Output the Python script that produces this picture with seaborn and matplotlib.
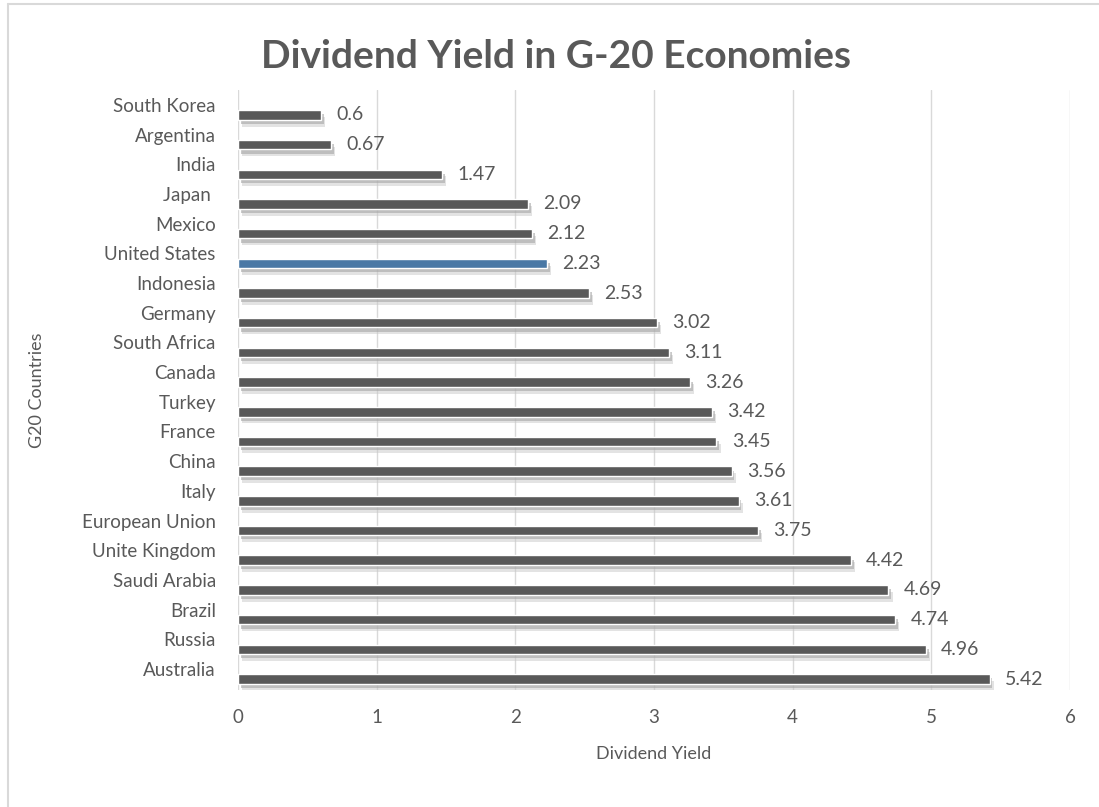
import numpy as np
import matplotlib.pyplot as plt
import matplotlib.patheffects as pe
import matplotlib.transforms as mtransforms
from matplotlib.lines import Line2D
import pandas as pd
import seaborn as sns

countries = ['South Korea', 'Argentina', 'India', 'Japan ', 'Mexico', 'United States',
             'Indonesia', 'Germany', 'South Africa', 'Canada', 'Turkey', 'France',
             'China', 'Italy', 'European Union', 'Unite Kingdom', 'Saudi Arabia',
             'Brazil', 'Russia', 'Australia']
yields = [0.6, 0.67, 1.47, 2.09, 2.12, 2.23, 2.53, 3.02, 3.11, 3.26, 3.42, 3.45,
          3.56, 3.61, 3.75, 4.42, 4.69, 4.74, 4.96, 5.42]
highlight = 'United States'

dane = pd.DataFrame({'country': countries, 'yield': yields})
kolory = {c: ('#3b78b4' if c == highlight else '#595959') for c in countries}

sns.set_style('white')
plt.rcParams['font.family'] = ['Lato', 'DejaVu Sans']
szary = '#595959'

fig = plt.figure(figsize=(10.99, 8.07), dpi=100)
ax = fig.add_axes([0.2166, 0.145, 0.7570, 0.7435])

sns.barplot(data=dane, x='yield', y='country', hue='country', palette=kolory,
            legend=False, width=0.32, orient='h', ax=ax, zorder=3)

# miekki cien pod slupkami jak w Excelu
for bar in ax.patches:
    bar.set_path_effects([
        pe.SimplePatchShadow(offset=(3, -5), shadow_rgbFace='#c8c8c8', alpha=0.5),
        pe.SimplePatchShadow(offset=(2, -3), shadow_rgbFace='#a6a6a6', alpha=0.6),
        pe.Normal()])

for cont in ax.containers:
    ax.bar_label(cont, fmt='%g', padding=11, fontsize=14, color=szary)

ax.set_xlim(0, 6)
ax.set_ylim(19.37, -0.84)
ax.set_xticks(range(7))
ax.grid(axis='x', color='#d9d9d9', linewidth=1, zorder=0)
sns.despine(ax=ax, left=True, bottom=True)
ax.tick_params(axis='both', length=0, labelsize=13.5, labelcolor=szary)
ax.tick_params(axis='x', pad=14)
ax.tick_params(axis='y', pad=16)

# etykiety krajow przesuniete lekko w gore
przes = mtransforms.ScaledTranslation(0, 10 / 100, fig.dpi_scale_trans)
for lab in ax.get_yticklabels():
    lab.set_transform(lab.get_transform() + przes)

ax.set_xlabel('Dividend Yield', fontsize=13, color=szary, labelpad=14)
ax.set_ylabel('G20 Countries', fontsize=13, color=szary)
ax.yaxis.set_label_coords(-0.232, 0.5)

fig.suptitle('Dividend Yield in G-20 Economies', x=0.506, y=0.952, fontsize=28,
             fontweight='bold', color=szary)

# ramka wykresu
fig.add_artist(Line2D([0.007, 1.0], [0.995, 0.995], color='#d9d9d9', linewidth=1.5))
fig.add_artist(Line2D([0.007, 0.007], [0.0, 0.995], color='#d9d9d9', linewidth=1.5))

fig.savefig('out.png', dpi=100)
